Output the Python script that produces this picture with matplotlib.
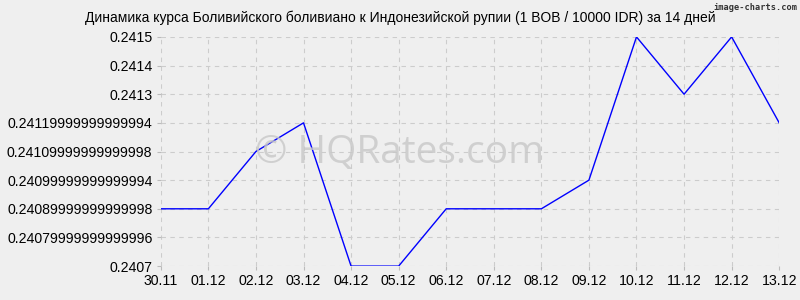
import matplotlib
matplotlib.use("Agg")
from matplotlib import pyplot as plt

# data
dates = ["30.11", "01.12", "02.12", "03.12", "04.12", "05.12", "06.12",
         "07.12", "08.12", "09.12", "10.12", "11.12", "12.12", "13.12"]
rates = [0.2409, 0.2409, 0.2411, 0.2412, 0.2407, 0.2407, 0.2409,
         0.2409, 0.2409, 0.2410, 0.2415, 0.2413, 0.2415, 0.2412]
y_ticks = [0.2407, 0.2408, 0.2409, 0.2410, 0.2411, 0.2412, 0.2413, 0.2414, 0.2415]
y_labels = ["0.2407", "0.24079999999999996", "0.24089999999999998",
            "0.24099999999999994", "0.24109999999999998", "0.24119999999999994",
            "0.2413", "0.2414", "0.2415"]

plt.rcParams['font.family'] = ['Liberation Sans', 'DejaVu Sans']
bg = "#efefef"

fig = plt.figure(figsize=(8, 3), dpi=100, facecolor=bg)
ax = fig.add_axes([0.201, 0.113, 0.773, 0.764], facecolor=bg)

x = list(range(len(dates)))
ax.plot(x, rates, color="#0000ff", linewidth=1.0)

ax.set_xlim(0, len(dates) - 1)
ax.set_ylim(0.2407, 0.2415)
ax.set_xticks(x)
ax.set_xticklabels(dates)
ax.set_yticks(y_ticks)
ax.set_yticklabels(y_labels)
ax.tick_params(axis="both", labelsize=10.2, length=3, color="#bbbbbb", pad=3)
ax.grid(True, linestyle=(0, (4, 4)), color="#cccccc", linewidth=0.8)
for s in ax.spines.values():
    s.set_visible(False)

# title is centred on the whole picture, not on the axes
fig.text(0.5, 0.94, "Динамика курса Боливийского боливиано к Индонезийской рупии (1 BOB / 10000 IDR) за 14 дней",
         fontsize=10, ha="center", va="center")

fig.text(0.5, 0.49, "© HQRates.com", fontsize=28, color="#c8c8c8",
         ha="center", va="center", family=["Open Sans", "DejaVu Sans"], alpha=0.8)
fig.text(0.997, 0.99, "image-charts.com", fontsize=6.2, color="#333333",
         ha="right", va="top", family=["DejaVu Sans Mono"], weight="bold")

plt.savefig("out.png", dpi=100, facecolor=bg)
